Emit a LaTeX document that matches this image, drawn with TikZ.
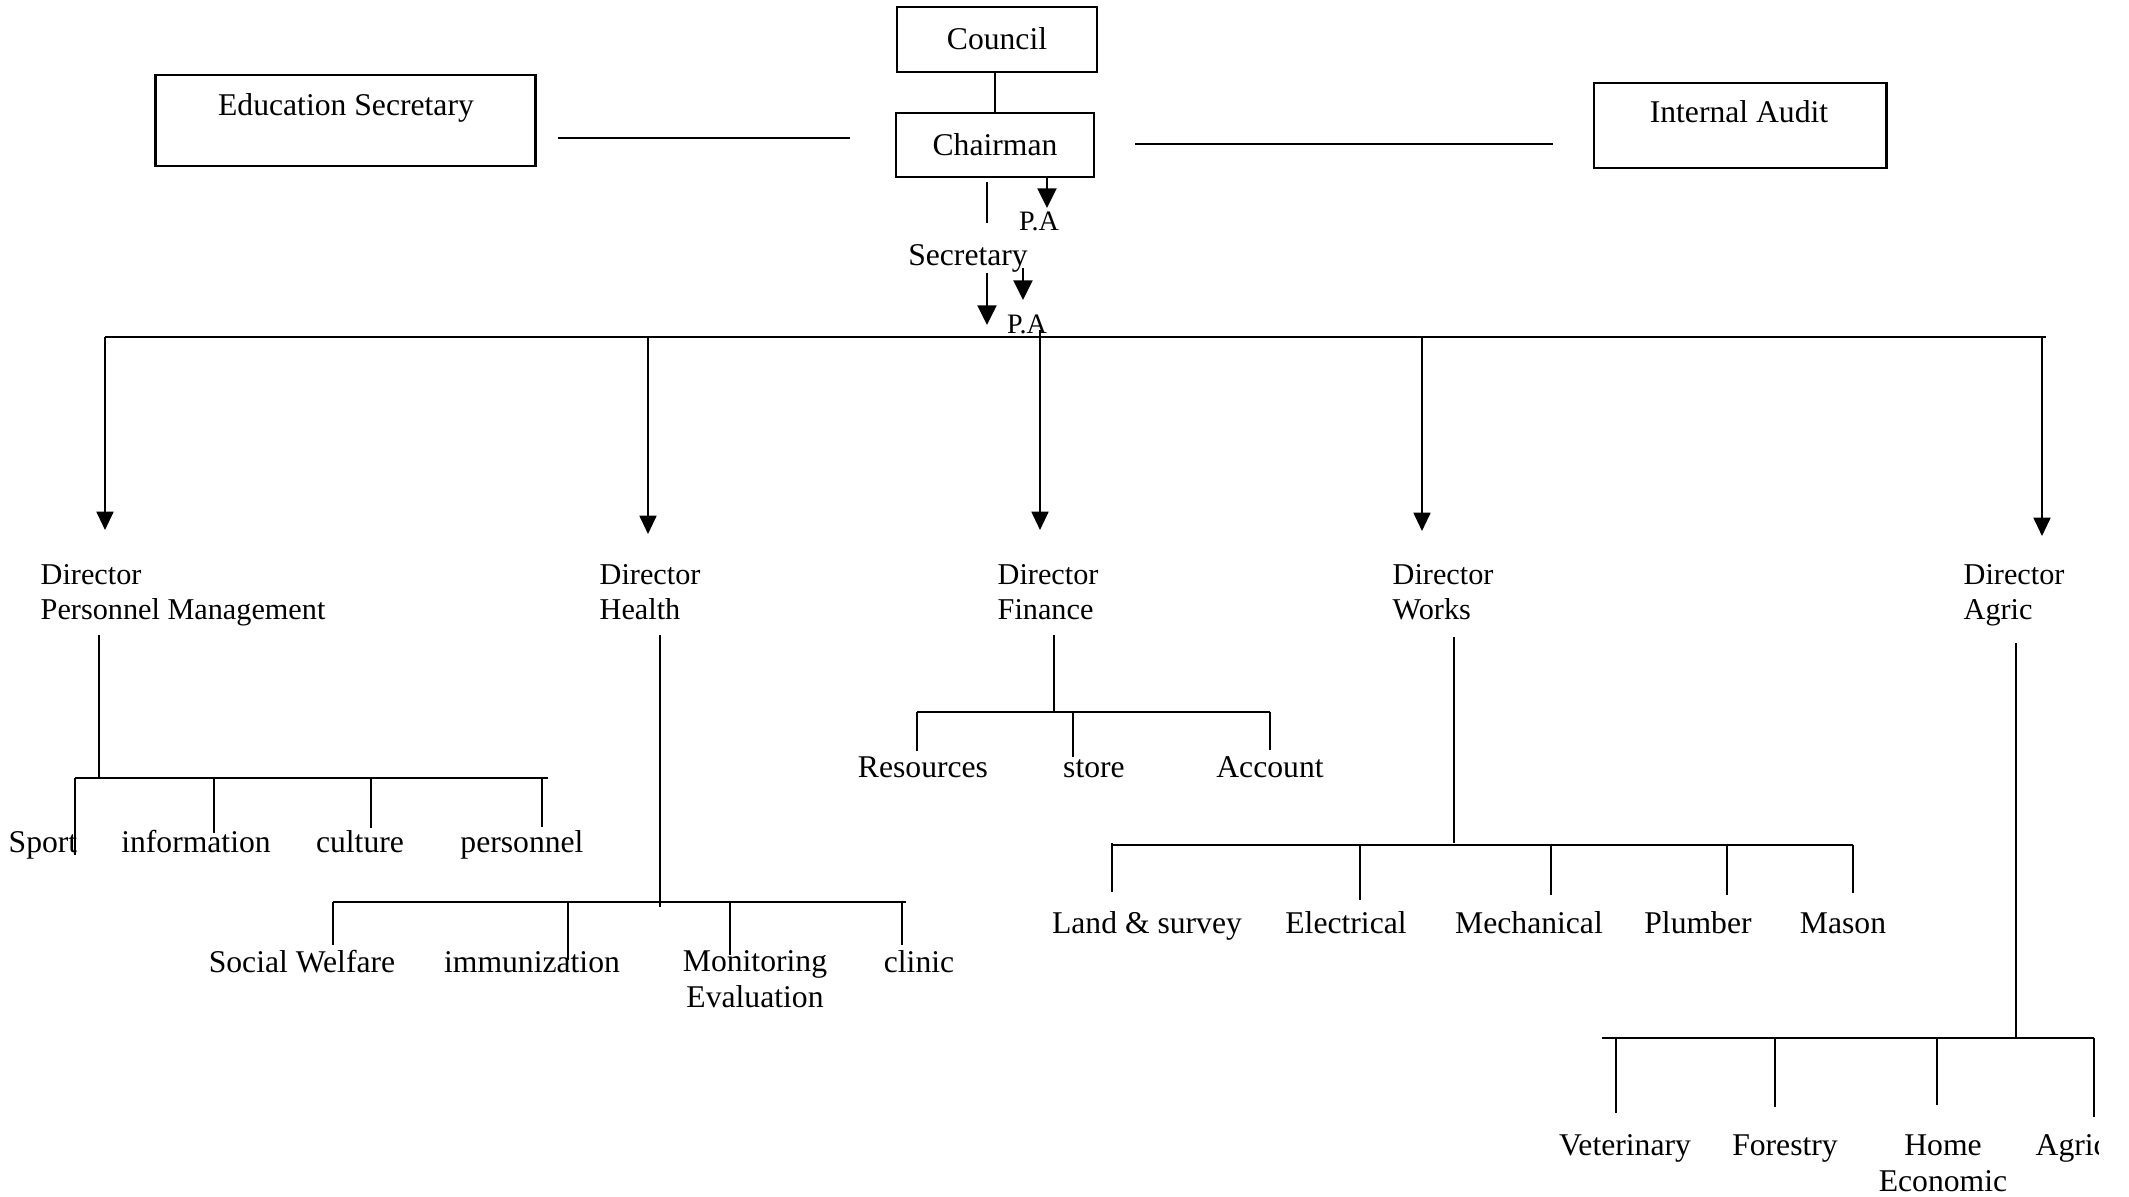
\documentclass[tikz,border=0pt]{standalone}
\usepackage{fontspec}
\setmainfont{Liberation Serif}
\usetikzlibrary{arrows.meta}
\begin{document}
\begin{tikzpicture}[x=0.01cm,y=-0.01cm,
  lbl/.style={font=\fontsize{9}{10.2}\selectfont, inner sep=0pt},
  lblc/.style={lbl, anchor=base},
  dirl/.style={font=\fontsize{8.6}{10}\selectfont, inner sep=0pt, align=left, anchor=north west},
  twol/.style={font=\fontsize{9}{10.2}\selectfont, inner sep=0pt, align=center, anchor=north},
  box/.style={draw, line width=0.8pt, inner sep=0pt},
  conn/.style={line width=0.6pt},
  arr/.style={conn, -{Triangle[length=5.2pt,width=4.8pt]}},
  bigarr/.style={conn, -{Triangle[length=5.6pt,width=5.4pt]}}]
\useasboundingbox (0,0) rectangle (2129,1196);

% ---- top boxes ----
\node[box, minimum width=2.00cm, minimum height=0.65cm] (council) at (997,39.5) {};
\node[lblc] (councilt) at (997,49) {Council};
\node[box, minimum width=1.98cm, minimum height=0.64cm] (chair) at (995,145) {};
\node[lblc] (chairt) at (995,155) {Chairman};
\node[box, minimum width=3.79cm, minimum height=0.91cm] (edu) at (345.5,120.5) {};
\node[lblc] (edut) at (346,115) {Education Secretary};
\node[box, minimum width=2.92cm, minimum height=0.85cm] (audit) at (1740,125.5) {};
\node[lblc] (auditt) at (1739,122) {Internal Audit};

\draw[conn] (council.south -| chair.north) -- (chair.north);
\coordinate (el1) at (558,138); \coordinate (el2) at (850,138);
\draw[conn] (el1) -- (el2);
\coordinate (al1) at (1135,144); \coordinate (al2) at (1553,144);
\draw[conn] (al1) -- (al2);

% ---- chairman / secretary / P.A ----
\coordinate (cs1) at (987,182); \coordinate (cs2) at (987,223);
\draw[conn] (cs1) -- (cs2);
\coordinate (pa1top) at (1047,177); \coordinate (pa1tip) at (1047,208);
\draw[bigarr] (pa1top) -- (pa1tip);
\node[lbl, anchor=base, font=\fontsize{8}{9}\selectfont] (pa1) at (1039,230) {P.A};
\node[lblc] (sec) at (968,265) {Secretary};
\coordinate (sa1) at (987,273); \coordinate (sa2) at (987,325);
\draw[bigarr] (sa1) -- (sa2);
\coordinate (sb1) at (1023,268); \coordinate (sb2) at (1023,300);
\draw[bigarr] (sb1) -- (sb2);
\node[lbl, anchor=base, font=\fontsize{8}{9}\selectfont] (pa2) at (1027,333) {P.A};

% ---- main bus ----
\coordinate (busL) at (105,337); \coordinate (busR) at (2046,337);
\draw[conn] (busL) -- (busR);

% ---- directors ----
\node[dirl] (dpm) at (40,564) {Director\\Personnel Management};
\node[dirl] (dhe) at (599,564) {Director\\Health};
\node[dirl] (dfi) at (997,564) {Director\\Finance};
\node[dirl] (dwo) at (1392,564) {Director\\Works};
\node[dirl] (dag) at (1963,564) {Director\\Agric};

\coordinate (t1) at (105,337); \coordinate (h1) at (105,530);
\coordinate (t2) at (648,337); \coordinate (h2) at (648,534);
\coordinate (t3) at (1040,330); \coordinate (h3) at (1040,530);
\coordinate (t4) at (1422,337); \coordinate (h4) at (1422,531);
\coordinate (t5) at (2042,337); \coordinate (h5) at (2042,536);
\foreach \i in {1,...,5} \draw[arr] (t\i) -- (h\i);

% ---- Personnel Management subtree ----
\coordinate (pmv1) at (99,635); \coordinate (pmv2) at (99,778);
\draw[conn] (pmv1) -- (pmv2);
\coordinate (pmbL) at (75,778); \coordinate (pmbR) at (548,778);
\draw[conn] (pmbL) -- (pmbR);
\node[lblc] (sport) at (43,852) {Sport};
\node[lblc] (info) at (196,852) {information};
\node[lblc] (cult) at (360,852) {culture};
\node[lblc] (pers) at (522,852) {personnel};
\draw[conn] (75,778) coordinate (pd1) -- (75,855) coordinate (pe1);
\draw[conn] (214,778) coordinate (pd2) -- (214,833) coordinate (pe2);
\draw[conn] (371,778) coordinate (pd3) -- (371,828) coordinate (pe3);
\draw[conn] (542,778) coordinate (pd4) -- (542,827) coordinate (pe4);

% ---- Health subtree ----
\coordinate (hv1) at (660,635); \coordinate (hv2) at (660,907);
\draw[conn] (hv1) -- (hv2);
\coordinate (hbL) at (333,902); \coordinate (hbR) at (906,902);
\draw[conn] (hbL) -- (hbR);
\node[lblc] (socw) at (302,972) {Social Welfare};
\node[lblc] (immu) at (532,972) {immunization};
\node[twol] (moni) at (755,950) {Monitoring\\Evaluation};
\node[lblc] (clin) at (919,972) {clinic};
\draw[conn] (333,902) coordinate (hd1) -- (333,945) coordinate (he1);
\draw[conn] (568,902) coordinate (hd2) -- (568,960) coordinate (he2);
\draw[conn] (730,902) coordinate (hd3) -- (730,955) coordinate (he3);
\draw[conn] (902,902) coordinate (hd4) -- (902,945) coordinate (he4);

% ---- Finance subtree ----
\coordinate (fv1) at (1054,635); \coordinate (fv2) at (1054,712);
\draw[conn] (fv1) -- (fv2);
\coordinate (fbL) at (917,712); \coordinate (fbR) at (1270,712);
\draw[conn] (fbL) -- (fbR);
\node[lblc] (reso) at (923,777) {Resources};
\node[lblc] (stor) at (1094,777) {store};
\node[lblc] (acco) at (1270,777) {Account};
\draw[conn] (917,712) coordinate (fd1) -- (917,751) coordinate (fe1);
\draw[conn] (1073,712) coordinate (fd2) -- (1073,757) coordinate (fe2);
\draw[conn] (1270,712) coordinate (fd3) -- (1270,750) coordinate (fe3);

% ---- Works subtree ----
\coordinate (wv1) at (1454,637); \coordinate (wv2) at (1454,843);
\draw[conn] (wv1) -- (wv2);
\coordinate (wbL) at (1112,845); \coordinate (wbR) at (1853,845);
\draw[conn] (wbL) -- (wbR);
\node[lblc] (land) at (1147,933) {Land \& survey};
\node[lblc] (elec) at (1346,933) {Electrical};
\node[lblc] (mech) at (1529,933) {Mechanical};
\node[lblc] (plum) at (1698,933) {Plumber};
\node[lblc] (maso) at (1843,933) {Mason};
\draw[conn] (1112,843) coordinate (wd1) -- (1112,892) coordinate (we1);
\draw[conn] (1360,845) coordinate (wd2) -- (1360,900) coordinate (we2);
\draw[conn] (1551,845) coordinate (wd3) -- (1551,895) coordinate (we3);
\draw[conn] (1727,845) coordinate (wd4) -- (1727,895) coordinate (we4);
\draw[conn] (1853,845) coordinate (wd5) -- (1853,893) coordinate (we5);

% ---- Agric subtree ----
\coordinate (av1) at (2016,643); \coordinate (av2) at (2016,1038);
\draw[conn] (av1) -- (av2);
\coordinate (abL) at (1602,1038); \coordinate (abR) at (2094,1038);
\draw[conn] (abL) -- (abR);
\node[lblc] (vete) at (1625,1155) {Veterinary};
\node[lblc] (fore) at (1785,1155) {Forestry};
\node[twol] (home) at (1943,1134) {Home\\Economic};
\begin{scope}
  \clip (1990,1090) rectangle (2098,1196);
  \node[lbl, anchor=base west] (agsub) at (2035,1155) {Agric};
\end{scope}
\draw[conn] (1616,1038) coordinate (ad1) -- (1616,1113) coordinate (ae1);
\draw[conn] (1775,1038) coordinate (ad2) -- (1775,1107) coordinate (ae2);
\draw[conn] (1937,1038) coordinate (ad3) -- (1937,1105) coordinate (ae3);
\draw[conn] (2094,1038) coordinate (ad4) -- (2094,1117) coordinate (ae4);
\end{tikzpicture}
\end{document}
